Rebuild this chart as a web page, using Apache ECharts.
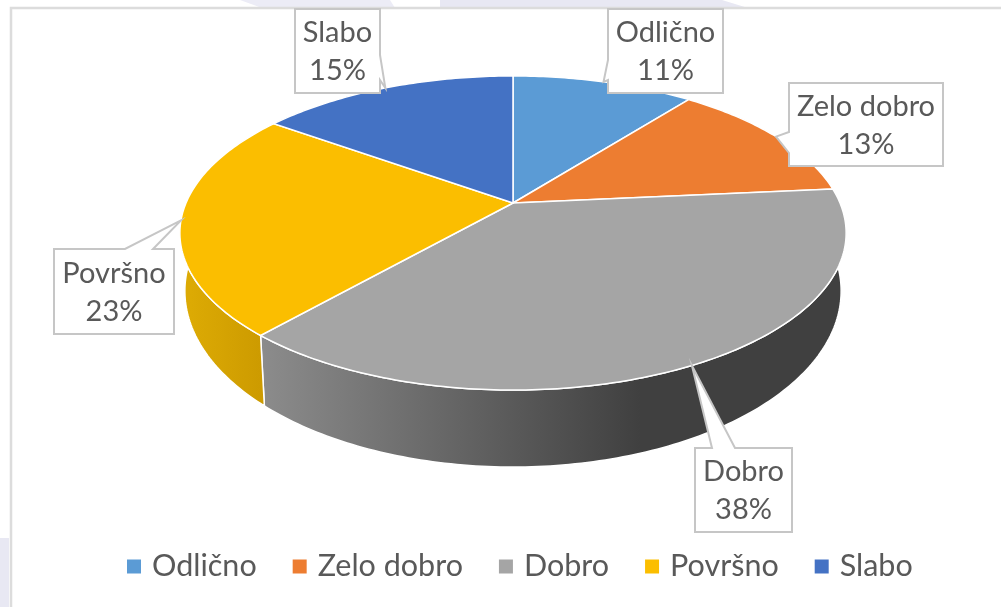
<!DOCTYPE html>
<html>
<head>
<meta charset="utf-8">
<title>Pie</title>
<style>
    html,body{margin:0;padding:0;background:#fff;}
    #pieChart{width:1001px;height:607px;}
</style>
<script src="https://cdn.jsdelivr.net/npm/echarts@6/dist/echarts.min.js"></script>
</head>
<body>
<div id="pieChart"></div>
<script>
    const categories = ['Odlično', 'Zelo dobro', 'Dobro', 'Površno', 'Slabo'];
    // shares, the labels show them rounded
    const percents = [10.6, 12.9, 38.0, 23.4, 15.1];

    const topColors = ['#5b9bd5', '#ed7d31', '#a5a5a5', '#fbbe00', '#4472c4'];
    const fontName = 'Lato';
    const textColor = '#595959';

    // perspective pie
    const pie = {cx: 513, cy: 203, a: 327, b: 151.3, k: 0.191, dy: 54.4, sx: 0.985, sy: 1.121};

    // callout boxes: [left, top, right, bottom], the side the pointer leaves from and where on it
    const callouts = [
        {box: [608, 9, 723, 93], side: 'left', base: [60, 80]},
        {box: [789, 83, 943, 166], side: 'left', base: [132, 153]},
        {box: [695, 448, 792, 532], side: 'top', base: [712, 735]},
        {box: [54, 249, 174, 334], side: 'top', base: [125, 153]},
        {box: [295, 9, 380, 93], side: 'right', base: [55, 80]}
    ];

    function gradient(x, x2, from, to){
        return new echarts.graphic.LinearGradient(x, 0, x2, 0, [
            {offset: 0, color: from},
            {offset: 1, color: to}
        ], true);
    }
    const wallColors = [
        '#44749f',
        '#b25d24',
        gradient(260, 640, '#8c8c8c', '#404040'),
        gradient(190, 265, '#dcaa04', '#cc9a00'),
        '#335593'
    ];

    function rim(pct, lower){ // percent around the pie -> pixel on the rim
        const t = pct / 100 * Math.PI * 2;
        const u = Math.sin(t), v = Math.cos(t);
        const d = 1 + pie.k * v;
        const x = pie.a * u / d, y = -pie.b * v / d;
        if(lower){
            return [pie.cx + x * pie.sx, pie.cy + pie.dy + y * pie.sy];
        }
        return [pie.cx + x, pie.cy + y];
    }

    function arc(from, to, lower){
        let pts = [];
        for(let p = from; p < to; p += 0.25){
            pts.push(rim(p, lower));
        }
        pts.push(rim(to, lower));
        return pts;
    }

    function calloutShape(c, tip){
        const [l, t, r, b] = c.box;
        if(c.side === 'left'){
            return [[l, t], [r, t], [r, b], [l, b], [l, c.base[1]], tip, [l, c.base[0]]];
        }
        if(c.side === 'right'){
            return [[l, t], [r, t], [r, c.base[0]], tip, [r, c.base[1]], [r, b], [l, b]];
        }
        return [[l, t], [c.base[0], t], tip, [c.base[1], t], [r, t], [r, b], [l, b]];
    }

    function makeRender(i){
        return function(params, api){
            const value = api.value(0);
            let start = 0;
            for(let j = 0; j < i; j++){
                start += percents[j];
            }
            const end = start + value;
            const c = callouts[i];
            const top = arc(start, end, false);
            const wall = top.concat(arc(start, end, true).reverse());
            const textX = (c.box[0] + c.box[2]) / 2;
            const textY = (c.box[1] + c.box[3]) / 2 + 1;
            const textStyle = {
                fill: textColor,
                font: '29px ' + fontName,
                textAlign: 'center',
                textVerticalAlign: 'middle'
            };
            return {
                type: 'group',
                children: [
                    {
                        type: 'polygon',
                        z2: 1,
                        shape: {points: wall},
                        style: {fill: wallColors[i], stroke: '#fff', lineWidth: 1.5}
                    },
                    {
                        type: 'polygon',
                        z2: 2,
                        shape: {points: [[pie.cx, pie.cy]].concat(top)},
                        style: {fill: topColors[i], stroke: '#fff', lineWidth: 1.5}
                    },
                    {
                        type: 'polygon',
                        z2: 3,
                        shape: {points: calloutShape(c, rim(start + value / 2, false))},
                        style: {fill: '#fff', stroke: '#c6c6c6', lineWidth: 2}
                    },
                    {
                        type: 'text',
                        z2: 4,
                        style: Object.assign({x: textX, y: textY - 19, text: categories[i]}, textStyle)
                    },
                    {
                        type: 'text',
                        z2: 4,
                        style: Object.assign({x: textX, y: textY + 19, text: Math.round(value) + '%'}, textStyle)
                    }
                ]
            };
        };
    }

    const seriesData = categories.map(function(name, i){
        return {
            name: name,
            type: 'custom',
            coordinateSystem: 'none',
            silent: true,
            itemStyle: {color: topColors[i]},
            renderItem: makeRender(i),
            data: [[percents[i]]]
        };
    });

    const option = {
        animation: false,
        backgroundColor: '#fff',
        legend: {
            left: 122,
            top: 546,
            icon: 'rect',
            itemWidth: 14,
            itemHeight: 14,
            itemGap: 36,
            selectedMode: false,
            data: categories,
            textStyle: {
                color: textColor,
                fontFamily: fontName,
                fontSize: 30.5,
                padding: [0, 0, 0, 6]
            }
        },
        graphic: [
            {type: 'polygon', silent: true, z: -2, shape: {points: [[240, 0], [390, 0], [395, 8], [262, 8]]}, style: {fill: '#ececf6'}},
            {type: 'polygon', silent: true, z: -2, shape: {points: [[440, 0], [722, 0], [748, 8], [440, 8]]}, style: {fill: '#e8e8f3'}},
            {type: 'rect', silent: true, z: -2, shape: {x: 0, y: 538, width: 9, height: 69}, style: {fill: '#e8e8f3'}},
            {type: 'polyline', silent: true, z: -1, shape: {points: [[11, 607], [11, 8], [1001, 8]]}, style: {fill: 'none', stroke: '#dcdcdc', lineWidth: 2.5}}
        ],
        series: seriesData
    };

    echarts.init(document.getElementById('pieChart')).setOption(option);
</script>
</body>
</html>
